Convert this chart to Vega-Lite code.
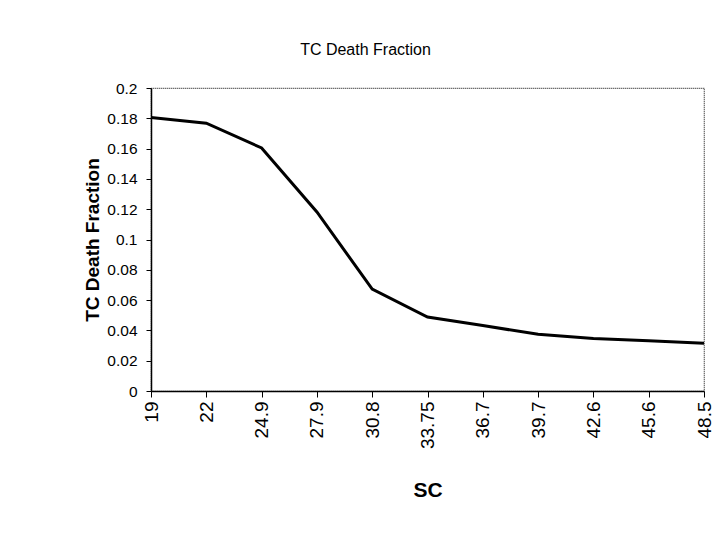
{
  "$schema": "https://vega.github.io/schema/vega-lite/v6.json",
  "width": 553,
  "height": 303,
  "autosize": "none",
  "padding": {"left": 151, "top": 88, "right": 9, "bottom": 155},
  "background": "white",
  "title": {
    "text": "TC Death Fraction",
    "font": "Liberation Sans",
    "fontSize": 16,
    "fontWeight": "normal",
    "color": "black",
    "anchor": "middle",
    "dx": -62,
    "offset": 23
  },
  "config": {
    "view": {"stroke": "#333", "strokeDash": [1, 1], "strokeWidth": 1.2},
    "axis": {
      "labelFont": "Liberation Sans",
      "titleFont": "Liberation Sans",
      "labelColor": "black",
      "titleColor": "black",
      "domainColor": "black",
      "tickColor": "black",
      "grid": false
    }
  },
  "data": {
    "values": [
      {"SC": "19", "f": 0.1805},
      {"SC": "22", "f": 0.1768},
      {"SC": "24.9", "f": 0.1604},
      {"SC": "27.9", "f": 0.1182},
      {"SC": "30.8", "f": 0.0672},
      {"SC": "33.75", "f": 0.0488},
      {"SC": "36.7", "f": 0.0432},
      {"SC": "39.7", "f": 0.0374},
      {"SC": "42.6", "f": 0.0347},
      {"SC": "45.6", "f": 0.0332},
      {"SC": "48.5", "f": 0.0315}
    ]
  },
  "mark": {"type": "line", "color": "black", "strokeWidth": 3},
  "encoding": {
    "x": {
      "field": "SC",
      "type": "ordinal",
      "sort": null,
      "scale": {"type": "point", "padding": 0},
      "axis": {
        "title": "SC",
        "titleFontSize": 21,
        "titleFontWeight": "bold",
        "titlePadding": 31,
        "labelAngle": 270,
        "labelAlign": "right",
        "labelBaseline": "middle",
        "labelFontSize": 19,
        "labelPadding": 4,
        "tickSize": 6,
        "domainWidth": 1.5
      }
    },
    "y": {
      "field": "f",
      "type": "quantitative",
      "scale": {"domain": [0, 0.2], "nice": false},
      "axis": {
        "title": "TC Death Fraction",
        "titleFontSize": 19,
        "titleFontWeight": "bold",
        "titlePadding": 4,
        "values": [0, 0.02, 0.04, 0.06, 0.08, 0.1, 0.12, 0.14, 0.16, 0.18, 0.2],
        "format": "~g",
        "labelFontSize": 15.5,
        "labelPadding": 9,
        "tickSize": 5,
        "domainWidth": 1.5
      }
    }
  }
}
